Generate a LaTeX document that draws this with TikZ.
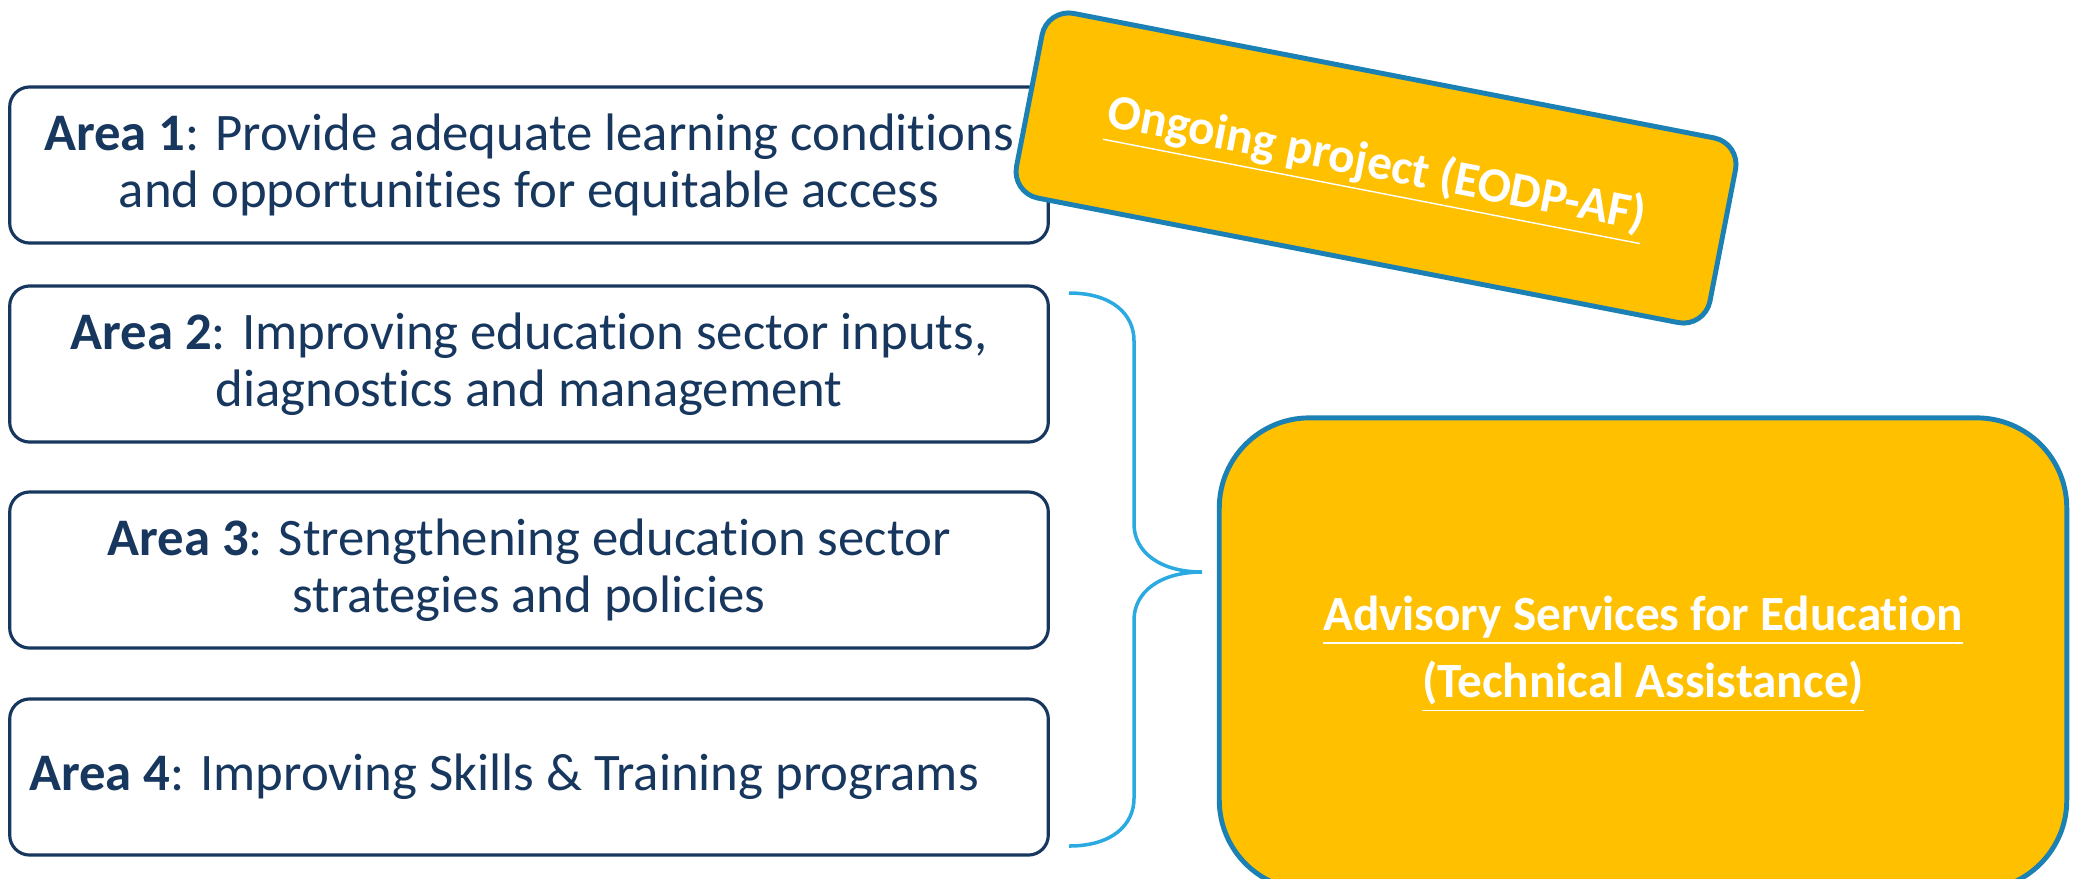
\documentclass[tikz,border=0pt]{standalone}
\usepackage{fontspec}
\setmainfont[Ligatures=NoCommon]{Carlito}
\usepackage{xcolor}
\usetikzlibrary{positioning,calc}

\definecolor{navy}{HTML}{17375E}
\definecolor{gold}{HTML}{FFC000}
\definecolor{edgeblue}{HTML}{1B80B4}
\definecolor{braceblue}{HTML}{2BAAE2}

\tikzset{
    areabox/.style={draw=navy, line width=0.9pt, rounded corners=2mm, minimum width=10.38cm, minimum height=1.56cm,
        text=navy, align=center, font=\fontsize{15}{16.2}\selectfont},
    goldbox/.style={draw=edgeblue, line width=1.4pt, fill=gold, text=white, align=center,
        font=\bfseries\fontsize{14}{16.4}\selectfont},
    bracepath/.style={draw=braceblue, line width=1pt}
}

\begin{document}
\begin{tikzpicture}[x=0.01cm, y=-0.01cm]
    \useasboundingbox (0,0) rectangle (2080,878);
    \clip (0,0) rectangle (2080,878);

    % Areas
    \node[areabox] (a1) at (529,165) {\textbf{Area 1}: Provide adequate learning conditions\\and opportunities for equitable access};
    \node[areabox] (a2) at (529,364) {\textbf{Area 2}: Improving education sector inputs,\\diagnostics and management};
    \node[areabox] (a3) at (529,570) {\textbf{Area 3}: Strengthening education sector\\strategies and policies};
    \node[areabox] (a4) at (529,777) {\textbf{Area 4}: Improving Skills \& Training programs\hspace*{5mm}};

    % Ongoing project
    \node[goldbox, rotate=-11, minimum width=7.06cm, minimum height=1.88cm, rounded corners=2.7mm] (ong) at (1376,168)
        {\underline{Ongoing project (EODP-AF)}};

    % Brace
    \coordinate (bt) at (1069,293);
    \coordinate (tip) at (1202,572);
    \coordinate (bb) at (1069,846);
    \draw[bracepath] (bt) .. controls (1112,293) and (1134,314) .. (1134,341) -- (1134,524)
        .. controls (1134,552) and (1160,572) .. (tip)
        .. controls (1160,572) and (1134,592) .. (1134,620) -- (1134,798)
        .. controls (1134,825) and (1112,846) .. (bb);

    % Advisory services
    \node[goldbox, minimum width=8.47cm, minimum height=4.72cm, rounded corners=9mm] (adv) at (1643,654)
        {\underline{Advisory Services for Education}\\[1mm]\underline{(Technical Assistance)}};
\end{tikzpicture}
\end{document}
